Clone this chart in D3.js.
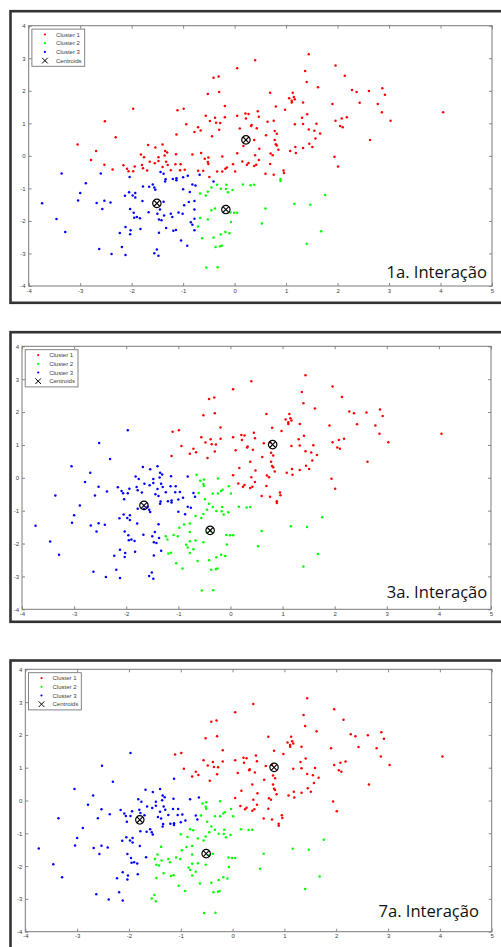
<!DOCTYPE html>
<html>
<head>
<meta charset="utf-8">
<script src="https://cdn.jsdelivr.net/npm/d3@7"></script>
<style>
  html, body { margin: 0; padding: 0; background: #fff; }
  svg { display: block; }
</style>
</head>
<body>
<svg id="chart" width="501" height="947"></svg>
<script>
// k-means on a 2-D sample: the same points shown after iterations 1, 3 and 7.

const xTicks = [-4, -3, -2, -1, 0, 1, 2, 3, 4, 5];
const yTicks = [-4, -3, -2, -1, 0, 1, 2, 3, 4];
const seriesNames = ["Cluster 1", "Cluster 2", "Cluster 3", "Centroids"];
const clusterColors = ["#ff0000", "#00ff00", "#0000ff"];
const panelTitles = ["1a. Interação", "3a. Interação", "7a. Interação"];

// sample points [x, y]
const points = [
  // upper band
  [0.40,2.94],[0.05,2.69],[-0.31,2.44],[-0.41,2.40],[-0.30,1.96],[-0.52,1.90],[-0.19,1.53],[-1.11,1.40],[-0.99,1.45],[-0.56,1.23],
  [-0.38,1.17],[-0.48,1.07],[-0.36,1.02],[-0.28,1.01],[-0.19,1.19],[0.05,1.23],[0.21,1.30],[0.27,1.29],[0.22,1.15],[0.45,1.37],
  [0.47,1.20],[-0.94,0.97],[-0.71,0.88],[-0.78,0.73],[-0.66,0.78],[-0.30,0.80],[0.10,0.84],[0.32,0.92],[0.33,0.95],[0.43,0.85],
  [-0.44,0.60],[0.38,0.49],[0.17,0.30],
  [-0.24,-0.02],
  [0.05,0.08],[0.40,0.02],[0.48,0.22],
  [-1.97,1.45],[-2.52,1.06],[-2.31,0.57],
  [-1.13,0.66],
  [-3.05,0.35],[-2.69,0.15],[-1.82,0.04],[-1.68,0.33],[-1.54,0.26],[-1.40,0.35],[-1.35,0.15],[-1.31,0.10],[-1.48,-0.04],[-1.36,0.01],
  [-1.14,0.05],[-0.82,0.04],
  [-0.65,0.09],
  [-0.51,-0.05],
  [-1.76,-0.04],[-2.79,-0.13],[-2.53,-0.27],[-2.37,-0.42],[-2.16,-0.29],[-2.09,-0.40],[-2.06,-0.47],[-1.97,-0.47],[-1.94,-0.33],[-1.80,-0.28],
  [-1.78,-0.38],[-1.70,-0.45],[-1.65,-0.18],[-1.55,-0.23],[-1.48,-0.16],[-1.40,-0.34],[-1.33,-0.18],[-1.30,-0.28],[-1.24,-0.44],[-1.15,-0.26],
  [-1.05,-0.26],[-1.06,-0.44],[-0.97,-0.43],[-0.71,-0.46],
  [-0.61,-0.46],[-0.58,-0.09],[-0.52,-0.19],[-0.51,-0.25],[-0.49,-0.65],[-0.34,-0.48],[-0.24,-0.48],[-0.18,-0.40],[-0.15,-0.36],[-0.03,-0.26],
  [0.01,-0.48],
  [0.15,-0.17],[0.24,-0.27],[0.27,-0.22],[0.38,-0.31],[0.42,-0.27],[0.47,-0.13],
  // right side
  [1.44,3.12],[1.96,2.78],[1.37,2.61],[2.14,2.46],[1.40,2.27],[1.62,2.11],[0.69,1.94],[1.13,1.94],[1.15,1.81],[1.17,1.74],
  [1.11,1.69],[1.11,1.64],[1.06,1.77],[2.28,2.02],[2.37,1.96],[2.61,1.99],[2.87,2.08],[2.92,1.88],[0.80,1.52],[0.98,1.42],
  [1.33,1.64],[1.90,1.59],[2.43,1.63],[2.78,1.59],[2.86,1.34],[4.05,1.34],[3.03,1.08],[0.64,1.05],[0.76,1.08],[1.31,1.17],
  [1.41,1.28],[1.96,1.08],[2.08,1.15],[2.18,1.19],[1.17,0.97],[1.33,0.98],[1.59,0.99],[2.05,0.92],[2.10,0.88],[0.61,0.63],
  [0.78,0.76],[0.82,0.68],[1.44,0.81],[1.55,0.77],[1.66,0.69],[1.57,0.53],[1.45,0.37],[1.51,0.27],[0.78,0.49],[0.80,0.36],
  [0.82,0.32],[0.85,0.19],[1.08,0.15],[1.18,0.27],[1.19,0.09],[1.33,0.24],[0.70,0.07],[0.74,0.02],[1.94,-0.03],[2.63,0.49],
  [2.01,-0.33],[0.69,-0.25],[0.60,-0.55],[0.76,-0.58],[0.95,-0.45],[0.96,-0.53],
  // lower middle
  [-0.45,-0.97],[-0.34,-0.89],[-0.16,-0.89],[-0.27,-1.01],[-0.17,-1.02],[-0.13,-1.12],[-0.04,-1.05],[0.16,-0.88],[0.31,-0.90],[0.38,-0.89],
  [-0.67,-1.16],[-0.56,-1.22],[-0.52,-1.10],[-0.45,-1.67],[-0.38,-1.62],[-0.08,-1.74],[-0.01,-1.75],[0.05,-1.75],[-0.52,-1.96],[-0.67,-1.91],
  [-0.71,-2.17],[-0.07,-2.03],[-0.10,-2.38],[-0.18,-2.34],[-0.27,-2.42],[-0.41,-2.51],[-0.63,-2.53],[-0.37,-2.80],[-0.28,-2.78],[-0.25,-2.76],
  [-0.55,-3.43],[-0.33,-3.42],[0.53,-2.08],
  [0.89,-0.71],[0.89,-0.77],
  [0.60,-1.62],[1.16,-1.47],[1.47,-1.50],[1.76,-1.20],[1.68,-2.32],[1.40,-2.70],
  // lower left
  [-3.36,-0.54],[-3.74,-1.46],[-3.46,-1.94],[-3.29,-2.34],[-2.89,-0.84],[-3.00,-1.14],[-3.04,-1.37],[-2.60,-0.54],[-2.68,-1.45],[-2.57,-1.63],
  [-2.53,-1.38],[-2.41,-1.43],[-2.63,-2.86],[-2.39,-3.02],[-2.19,-2.80],[-2.12,-3.05],[-2.23,-2.37],[-2.12,-2.19],[-2.02,-2.29],[-2.03,-2.41],
  [-2.04,-0.65],[-2.13,-1.23],[-2.05,-1.12],[-1.98,-1.22],[-1.93,-1.14],[-1.93,-1.28],[-2.03,-1.63],[-1.96,-1.75],[-1.95,-1.90],[-1.90,-1.88],
  [-1.84,-1.92],[-1.83,-2.25],[-1.79,-1.39],[-1.78,-0.94],[-1.66,-0.95],[-1.59,-0.88],[-1.56,-0.97],[-1.54,-1.04],[-1.67,-1.73],
  [-1.50,-1.78],[-1.47,-1.96],[-1.42,-1.98],[-1.45,-1.65],[-1.38,-1.41],[-1.33,-2.22],[-1.47,-2.36],[-1.37,-1.83],
  [-1.24,-1.78],[-1.21,-1.88],[-1.19,-2.30],[-1.14,-2.28],[-1.09,-1.74],[-1.01,-1.78],[-1.04,-2.60],[-0.98,-1.52],
  [-1.00,-1.03],
  [-1.00,-0.66],
  [-0.92,-2.76],[-0.85,-2.04],[-0.82,-2.12],[-0.78,-2.29],[-0.78,-1.93],
  [-0.87,-1.11],
  [-0.89,-1.42],[-0.78,-1.39],[-0.78,-1.65],
  [-0.91,-0.61],
  [-0.82,-0.88],[-0.76,-0.91],[-1.56,-2.99],[-1.51,-2.88],[-1.48,-3.07],
  [-1.44,-0.50],[-1.38,-0.55],[-1.35,-0.79],[-1.34,-0.72],[-1.20,-0.71],[-1.13,-0.69],[-1.13,-0.75],
  [-0.68,-0.58],
  [-0.41,-0.79]
];

// cluster of every point after each shown iteration (1, 2, 3 = Cluster 1, 2, 3)
const assignIter1 =
  "1111111111 1111111111 1111111111 1111111111 1111111111 1111111111 1111111111 1111111111 " +
  "1111111111 1111111111 1111111111 1111111111 1111111111 1111111111 1111111111 1111111111 11 " +
  "2222222222 2222222222 2222222222 2222222222 2 " +
  "3333333333 3333333333 3333333333 3333333333 3333333333 3333333333 3333333333 3333333333 3";
const assignIter3 =
  "1111111111 1111111111 1111111111 111 2 111 333 1 333333333333 2 2 " +
  "3333333333 3333333333 3333 22222222222 111111 " +
  "1111111111 1111111111 1111111111 1111111111 1111111111 1111111111 111111 " +
  "2222222222 2222222222 2222222222 222 11 222222 " +
  "3333333333 3333333333 3333333333 333333333 33333333 22222222 3 3 22222 3 222 3 33333 3333333 3 2";
const assignIter7 =
  "1111111111 1111111111 1111111111 111 2 111 333 3 333333333333 3 2 " +
  "3333333333 3333333333 3333 22222222222 111111 " +
  "1111111111 1111111111 1111111111 1111111111 1111111111 1111111111 111111 " +
  "2222222222 2222222222 2222222222 222 11 222222 " +
  "3333333333 3333333333 3333333333 333333333 22222222 22222222 2 3 22222 2 222 3 22222 3333333 3 2";

// centroid positions [x, y] for Cluster 1, 2, 3
const centroidsIter1 = [[0.22, 0.49], [-0.17, -1.65], [-1.51, -1.46]];
const centroidsIter3 = [[0.81, 1.01], [-0.39, -1.60], [-1.66, -0.84]];
const centroidsIter7 = [[0.80, 1.01], [-0.51, -1.62], [-1.79, -0.59]];

const iterations = [
  { title: panelTitles[0], assign: assignIter1, centroids: centroidsIter1 },
  { title: panelTitles[1], assign: assignIter3, centroids: centroidsIter3 },
  { title: panelTitles[2], assign: assignIter7, centroids: centroidsIter7 }
];

// panel geometry (page pixels)
const layouts = [
  { frameTop: 11.2, frameBottom: 302.8, left: 28.7, right: 492, top: 25.7, bottom: 286, titleX: 487, titleY: 277.5 },
  { frameTop: 332.2, frameBottom: 621.8, left: 22, right: 491, top: 346.3, bottom: 609.3, titleX: 487.3, titleY: 597.7 },
  { frameTop: 660.5, frameBottom: 960, left: 25.3, right: 491.7, top: 669.3, bottom: 931.7, titleX: 479, titleY: 917.3 }
];

const svg = d3.select("#chart");
const tickFmt = d => String(d);

iterations.forEach((it, i) => {
  const L = layouts[i];
  const labels = it.assign.replace(/\s+/g, "").split("").map(Number);
  if (labels.length !== points.length) throw new Error("assignment length " + labels.length + " vs " + points.length);

  const g = svg.append("g");

  // dark window frame around the panel
  g.append("rect")
    .attr("x", 10.5).attr("y", L.frameTop)
    .attr("width", 540).attr("height", L.frameBottom - L.frameTop)
    .attr("fill", "#fff").attr("stroke", "#333").attr("stroke-width", 2.6);

  const x = d3.scaleLinear().domain([-4, 5]).range([L.left, L.right]);
  const y = d3.scaleLinear().domain([-4, 4]).range([L.bottom, L.top]);

  const axisStyle = sel => {
    sel.select(".domain").remove();
    sel.selectAll(".tick line").attr("stroke", "#7a7a7a").attr("stroke-width", 0.9);
    sel.selectAll(".tick text").attr("fill", "#404040")
      .style("font-family", "'Liberation Sans', Arial, sans-serif").style("font-size", "6px");
  };

  g.append("g").attr("transform", `translate(0,${L.bottom})`)
    .call(d3.axisBottom(x).tickValues(xTicks).tickFormat(tickFmt).tickSize(-3).tickPadding(2.5))
    .call(axisStyle);
  g.append("g").attr("transform", `translate(0,${L.top})`)
    .call(d3.axisTop(x).tickValues(xTicks).tickFormat("").tickSize(-3))
    .call(axisStyle);
  g.append("g").attr("transform", `translate(${L.left},0)`)
    .call(d3.axisLeft(y).tickValues(yTicks).tickFormat(tickFmt).tickSize(-3).tickPadding(3))
    .call(axisStyle);
  g.append("g").attr("transform", `translate(${L.right},0)`)
    .call(d3.axisRight(y).tickValues(yTicks).tickFormat("").tickSize(-3))
    .call(axisStyle);

  // axes box
  g.append("rect")
    .attr("x", x(-4)).attr("y", y(4))
    .attr("width", x(5) - x(-4)).attr("height", y(-4) - y(4))
    .attr("fill", "none").attr("stroke", "#7a7a7a").attr("stroke-width", 1);

  // sample points
  g.append("g").selectAll("circle")
    .data(points.map((p, k) => ({ p, c: labels[k] })))
    .join("circle")
    .attr("cx", d => x(d.p[0])).attr("cy", d => y(d.p[1]))
    .attr("r", 1.25)
    .attr("fill", d => clusterColors[d.c - 1]);

  // centroids: circle with a cross
  const cg = g.append("g").selectAll("g")
    .data(it.centroids).join("g")
    .attr("transform", d => `translate(${x(d[0])},${y(d[1])})`);
  cg.append("circle").attr("r", 4.2).attr("fill", "none").attr("stroke", "#000").attr("stroke-width", 1.2);
  cg.append("path").attr("d", "M-2.9,-2.9L2.9,2.9M-2.9,2.9L2.9,-2.9")
    .attr("stroke", "#000").attr("stroke-width", 1.1);

  // legend
  const lg = g.append("g").attr("transform", `translate(${L.left + 3.2},${L.top + 3.4})`);
  lg.append("rect").attr("width", 52.8).attr("height", 37.2)
    .attr("fill", "#fff").attr("stroke", "#777").attr("stroke-width", 0.9);
  seriesNames.forEach((name, k) => {
    const cy = 5.4 + k * 8.7;
    if (k < 3) {
      lg.append("circle").attr("cx", 13).attr("cy", cy).attr("r", 1.1).attr("fill", clusterColors[k]);
    } else {
      lg.append("path").attr("d", `M10.2,${cy - 2.8}L15.8,${cy + 2.8}M10.2,${cy + 2.8}L15.8,${cy - 2.8}`)
        .attr("stroke", "#000").attr("stroke-width", 1);
    }
    lg.append("text").attr("x", 24).attr("y", cy + 2.1)
      .attr("fill", "#404040")
      .style("font-family", "'Liberation Sans', Arial, sans-serif").style("font-size", "6px")
      .text(name);
  });

  // iteration caption
  g.append("text")
    .attr("x", L.titleX).attr("y", L.titleY)
    .attr("text-anchor", "end")
    .attr("fill", "#111")
    .style("font-family", "'Open Sans', sans-serif").style("font-size", "16.6px")
    .text(it.title);
});
</script>
</body>
</html>
